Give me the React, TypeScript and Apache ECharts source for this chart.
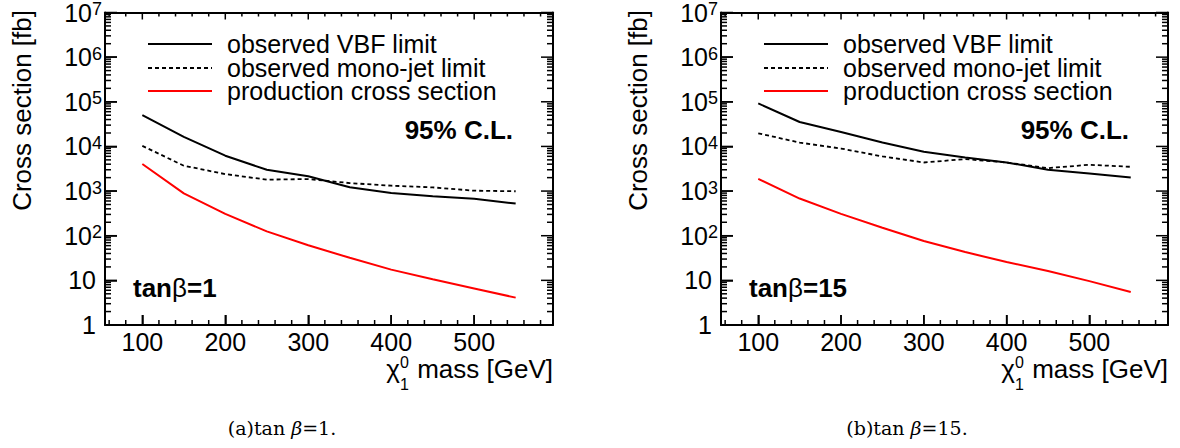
import React, { useEffect, useRef } from "react";
import * as echarts from "echarts";

// chi^0_1 masses [GeV]
const masses = [100, 150, 200, 250, 300, 350, 400, 450, 500, 550];

// tan(beta) = 1 panel [fb]
const vbfLimitTan1 = [50000, 16300, 6200, 3000, 2150, 1220, 910, 770, 670, 525];
const monojetLimitTan1 = [10300, 3700, 2400, 1800, 1860, 1510, 1320, 1210, 1020, 990];
const productionTan1 = [4030, 890, 309, 125, 61, 32, 17.4, 10.6, 6.6, 4.1];

// tan(beta) = 15 panel [fb]
const vbfLimitTan15 = [92000, 35300, 21100, 12200, 7570, 5660, 4380, 3000, 2480, 2020];
const monojetLimitTan15 = [19700, 12200, 8980, 5960, 4370, 5200, 4370, 3270, 3880, 3500];
const productionTan15 = [1870, 680, 309, 151, 76, 43, 25.8, 16.2, 9.6, 5.5];

const seriesNames = ["observed VBF limit", "observed mono-jet limit", "production cross section"];
const panelLabels = ["1", "15"];
const captionLetters = ["a", "b"];

// axis ranges and ticks
const xRange = [55, 595];
const yRange = [1, 10000000];
const xMajorTicks = [100, 200, 300, 400, 500];
const xMinorTicks = [60, 80, 120, 140, 160, 180, 220, 240, 260, 280, 320, 340, 360, 380, 420, 440, 460, 480, 520, 540, 560, 580];
const yMajorTicks = [1, 10, 100, 1000, 10000, 100000, 1000000, 10000000];
const yMinorMultipliers = [2, 3, 4, 5, 6, 7, 8, 9];
const yMinorTicks: number[] = [];
for (let d = 0; d < 7; d++) {
  for (const m of yMinorMultipliers) yMinorTicks.push(m * Math.pow(10, d));
}

const FONT = "Liberation Sans";

// tick kinds: bottom major/minor, top major/minor, left major/minor, right major/minor
// pixel direction & length of each kind (style only)
const TICK_GEOM = [
  [0, -10], [0, -5], [0, 7], [0, 4],
  [12, 0], [6, 0], [-12, 0], [-6, 0],
];

export default function App() {
  const ref = useRef<HTMLDivElement>(null);

  useEffect(() => {
    document.body.style.margin = "0";
    if (!ref.current) return;
    const chart = echarts.init(ref.current, null, { renderer: "svg" });

    const grids = [
      { left: 105, top: 11, width: 448, height: 314 },
      { left: 721, top: 11, width: 447, height: 314 },
    ];

    const panelData = [
      [vbfLimitTan1, monojetLimitTan1, productionTan1],
      [vbfLimitTan15, monojetLimitTan15, productionTan15],
    ];

    const styles = [
      { color: "#000", width: 2, type: "solid" as any, dash: null as any },
      { color: "#000", width: 1.8, type: [4, 3] as any, dash: [4, 3] },
      { color: "#ff0000", width: 2, type: "solid" as any, dash: null as any },
    ];

    const xAxes: any[] = [];
    const yAxes: any[] = [];
    const series: any[] = [];
    const graphics: any[] = [];

    const axisLineStyle = { color: "#000", width: 2 };
    const tickLineStyle = { color: "#000", width: 1.5 };

    grids.forEach((g, p) => {
      const xBase = {
        type: "value",
        gridIndex: p,
        min: xRange[0],
        max: xRange[1],
        splitLine: { show: false },
      };
      xAxes.push({
        ...xBase,
        position: "bottom",
        axisLine: { show: true, onZero: false, lineStyle: axisLineStyle },
        axisTick: { show: true, inside: true, length: 10, lineStyle: tickLineStyle },
        axisLabel: {
          customValues: xMajorTicks,
          fontSize: 25,
          fontFamily: FONT,
          color: "#000",
          margin: 4,
        },
      });
      xAxes.push({
        ...xBase,
        position: "top",
        axisLine: { show: true, onZero: false, lineStyle: axisLineStyle },
        axisTick: { show: false },
        axisLabel: { show: false },
      });

      const yBase = {
        type: "log",
        gridIndex: p,
        min: yRange[0],
        max: yRange[1],
        splitLine: { show: false },
      };
      yAxes.push({
        ...yBase,
        position: "left",
        axisLine: { show: true, onZero: false, lineStyle: axisLineStyle },
        axisTick: { show: true, inside: true, length: 12, lineStyle: tickLineStyle },
        axisLabel: {
          customValues: yMajorTicks,
          margin: 3,
          formatter: (v: number) => {
            const e = Math.round(Math.log10(v));
            if (e <= 1) return `{p|${e === 0 ? "1" : "10"}}`;
            return `{b|10}{s|${e}}`;
          },
          rich: {
            p: { fontSize: 25, fontFamily: FONT, color: "#000", lineHeight: 25, padding: [0, 6, 0, 0] },
            b: { fontSize: 25, fontFamily: FONT, color: "#000", lineHeight: 25 },
            s: { fontSize: 18, fontFamily: FONT, color: "#000", lineHeight: 13, verticalAlign: "top" },
          },
        },
      });
      yAxes.push({
        ...yBase,
        position: "right",
        axisLine: { show: true, onZero: false, lineStyle: axisLineStyle },
        axisTick: { show: false },
        axisLabel: { show: false },
      });

      panelData[p].forEach((vals, si) => {
        series.push({
          type: "line",
          name: seriesNames[si],
          xAxisIndex: p * 2,
          yAxisIndex: p * 2,
          data: masses.map((m, i) => [m, vals[i]]),
          symbol: "none",
          showSymbol: false,
          color: styles[si].color,
          lineStyle: { color: styles[si].color, width: styles[si].width, type: styles[si].type },
        });
      });

      // All tick marks (major + minor, four sides), anchored through the axes' scales
      const tickData = [
        ...xMajorTicks.map((v) => [v, yRange[0], 0]),
        ...xMinorTicks.map((v) => [v, yRange[0], 1]),
        ...xMajorTicks.map((v) => [v, yRange[1], 2]),
        ...xMinorTicks.map((v) => [v, yRange[1], 3]),
        ...yMajorTicks.map((v) => [xRange[0], v, 4]),
        ...yMinorTicks.map((v) => [xRange[0], v, 5]),
        ...yMajorTicks.map((v) => [xRange[1], v, 6]),
        ...yMinorTicks.map((v) => [xRange[1], v, 7]),
      ];
      series.push({
        type: "custom",
        xAxisIndex: p * 2,
        yAxisIndex: p * 2,
        clip: false,
        data: tickData,
        renderItem: (params: any, api: any) => {
          const c = api.coord([api.value(0), api.value(1)]);
          const d = TICK_GEOM[api.value(2)] || [0, 0];
          return {
            type: "line",
            shape: { x1: c[0], y1: c[1], x2: c[0] + d[0], y2: c[1] + d[1] },
            style: { stroke: "#000", lineWidth: 1.5 },
          };
        },
      });

      const gl = g.left;
      const gr = g.left + g.width;

      // Legend (sample line + label)
      const rowY = [44, 68, 91];
      seriesNames.forEach((name, si) => {
        const lineStyle: any = { stroke: styles[si].color, lineWidth: styles[si].width };
        if (styles[si].dash) lineStyle.lineDash = styles[si].dash;
        graphics.push({
          type: "line",
          shape: { x1: gl + 43, y1: rowY[si], x2: gl + 107, y2: rowY[si] },
          style: lineStyle,
        });
        graphics.push({
          type: "text",
          x: gl + 122,
          y: rowY[si],
          style: {
            text: name,
            fontSize: 25,
            fontFamily: FONT,
            fill: "#000",
            align: "left",
            verticalAlign: "middle",
          },
        });
      });

      graphics.push({
        type: "text",
        x: gl + 408,
        y: 130,
        style: {
          text: "95% C.L.",
          fontSize: 26,
          fontWeight: "bold",
          fontFamily: FONT,
          fill: "#000",
          align: "right",
          verticalAlign: "middle",
        },
      });
      graphics.push({
        type: "text",
        x: gl + 28,
        y: 288,
        style: {
          text: `{b|tan}{g|β}{b|=${panelLabels[p]}}`,
          verticalAlign: "middle",
          rich: {
            b: { fontSize: 26, fontWeight: "bold", fontFamily: FONT, fill: "#000" },
            g: { fontSize: 26, fontWeight: "normal", fontFamily: FONT, fill: "#000" },
          },
        },
      });
      graphics.push({
        type: "text",
        x: gl - 83,
        y: 10,
        rotation: Math.PI / 2,
        style: {
          text: "Cross section [fb]",
          fontSize: 26,
          fontFamily: FONT,
          fill: "#000",
          align: "right",
          verticalAlign: "middle",
        },
      });
      graphics.push({
        type: "text",
        x: gr,
        y: 369,
        style: {
          text: "mass [GeV]",
          fontSize: 26,
          fontFamily: FONT,
          fill: "#000",
          align: "right",
          verticalAlign: "middle",
        },
      });
      graphics.push({
        type: "text",
        x: gr - 153,
        y: 369,
        style: { text: "χ", fontSize: 26, fontFamily: FONT, fill: "#000", align: "right", verticalAlign: "middle" },
      });
      graphics.push({
        type: "text",
        x: gr - 153,
        y: 362,
        style: { text: "0", fontSize: 16, fontFamily: FONT, fill: "#000", align: "left", verticalAlign: "middle" },
      });
      graphics.push({
        type: "text",
        x: gr - 153,
        y: 384,
        style: { text: "1", fontSize: 16, fontFamily: FONT, fill: "#000", align: "left", verticalAlign: "middle" },
      });
      graphics.push({
        type: "text",
        x: p === 0 ? 282 : 907,
        y: 428,
        style: {
          text: `(${captionLetters[p]})tan {i|β}=${panelLabels[p]}.`,
          fontSize: 19,
          fontFamily: "DejaVu Serif",
          fill: "#000",
          align: "center",
          verticalAlign: "middle",
          rich: {
            i: { fontSize: 19, fontFamily: "DejaVu Serif", fontStyle: "italic", fill: "#000" },
          },
        },
      });
    });

    chart.setOption({
      animation: false,
      grid: grids,
      xAxis: xAxes,
      yAxis: yAxes,
      series,
      graphic: graphics,
    });

    return () => chart.dispose();
  }, []);

  return <div ref={ref} style={{ width: 1180, height: 448 }} />;
}
